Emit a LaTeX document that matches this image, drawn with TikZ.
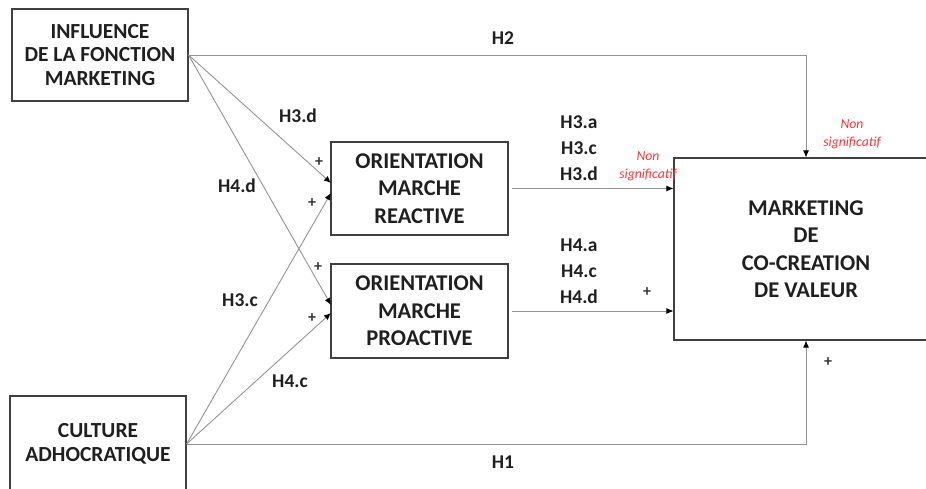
\documentclass[tikz,border=0pt]{standalone}
\usepackage{fontspec}
\setmainfont{Carlito}
\usetikzlibrary{arrows.meta,calc}
\definecolor{nsred}{HTML}{F03A3A}
\begin{document}
\begin{tikzpicture}[x=1pt,y=-1pt,
  box/.style={draw=black!75, line width=1.1pt, align=center, inner sep=0pt, text=black!88},
  bigtxt/.style={font=\bfseries\fontsize{22.5}{27.5}\selectfont},
  smalltxt/.style={font=\bfseries\fontsize{21.5}{23.5}\selectfont},
  conn/.style={draw=black!42, line width=0.9pt, -{Latex[black,length=7pt,width=6pt]}},
  lbl/.style={font=\bfseries\fontsize{19.5}{26}\selectfont, text=black!88, align=center, inner sep=0pt},
  plus/.style={font=\bfseries\fontsize{16}{16}\selectfont, text=black!80, inner sep=0pt},
  ns/.style={font=\itshape\fontsize{13.7}{18}\selectfont, text=nsred, align=center, inner sep=0pt}]
\useasboundingbox (0,0) rectangle (926,489);
% boxes
\node[box, smalltxt, minimum width=176pt, minimum height=92pt] (inf) at (100,55) {INFLUENCE\\DE LA FONCTION\\MARKETING};
\node[box, smalltxt, minimum width=176pt, minimum height=96pt] (cul) at (98,444) {CULTURE\\ADHOCRATIQUE};
\node[box, bigtxt, minimum width=177pt, minimum height=93pt] (rea) at (419.5,188.5) {ORIENTATION\\MARCHE\\REACTIVE};
\node[box, bigtxt, minimum width=177pt, minimum height=94pt] (pro) at (419.5,311) {ORIENTATION\\MARCHE\\PROACTIVE};
\node[box, bigtxt, minimum width=264pt, minimum height=182pt] (mkt) at (806,249) {MARKETING\\DE\\CO-CREATION\\DE VALEUR};
% arrow end points on the left sides
\coordinate (r1) at (331,183);
\coordinate (r2) at (331,193);
\coordinate (p1) at (331,305);
\coordinate (p2) at (331,313);
% connectors
\draw[conn] (inf.east) -- (r1);
\draw[conn] (inf.east) -- (p1);
\draw[conn] (cul.east) -- (r2);
\draw[conn] (cul.east) -- (p2);
\draw[conn] (inf.east) -| (mkt.north);
\draw[conn] (cul.east) -| (mkt.south);
\draw[conn, shorten <=3pt] (rea.east) -- (rea.east -| mkt.west);
\draw[conn, shorten <=3pt] (pro.east) -- (pro.east -| mkt.west);
% labels
\node[lbl] (h2) at (503,38) {H2};
\node[lbl] (h1) at (503,462) {H1};
\node[lbl] (h3d) at (298,116) {H3.d};
\node[lbl] (h4d) at (237,186) {H4.d};
\node[lbl] (h3c) at (240,300) {H3.c};
\node[lbl] (h4c) at (290,381) {H4.c};
\node[lbl] (h3) at (579,148) {H3.a\\H3.c\\H3.d};
\node[lbl] (h4) at (579,271) {H4.a\\H4.c\\H4.d};
\node[plus] (pa) at (319,162) {+};
\node[plus] (pb) at (312,203) {+};
\node[plus] (pc) at (318,267) {+};
\node[plus] (pd) at (312,318) {+};
\node[plus] (pe) at (647,292) {+};
\node[plus] (pf) at (828,362) {+};
\node[ns] (ns1) at (648,166) {Non\\significatif};
\node[ns] (ns2) at (852,134) {Non\\significatif};
\end{tikzpicture}
\end{document}
